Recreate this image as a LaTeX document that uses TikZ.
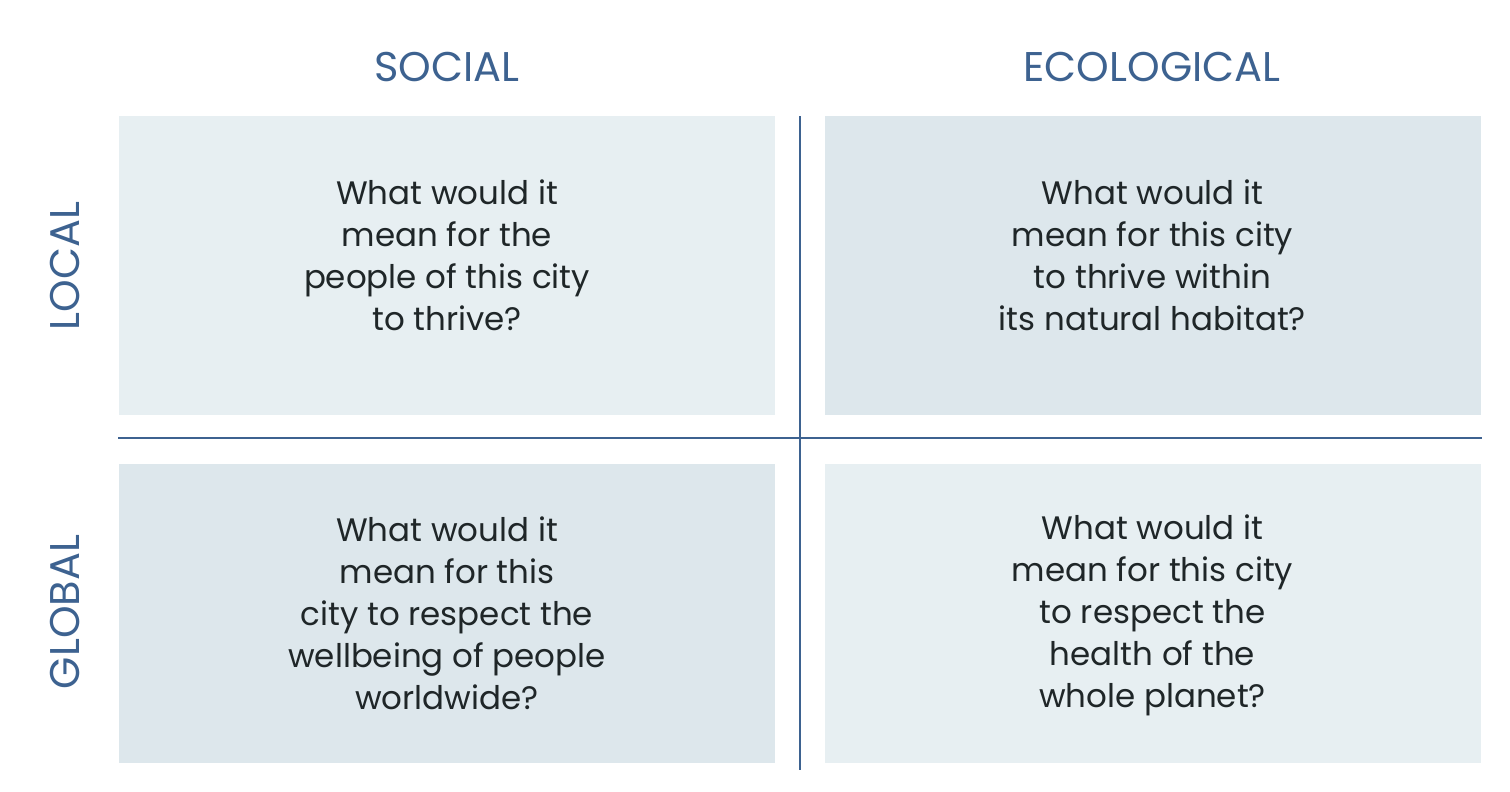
\documentclass[tikz,border=0pt]{standalone}
\usepackage{fontspec}
\setmainfont{Poppins}
\definecolor{headblue}{HTML}{3D6290}
\definecolor{lightbox}{HTML}{E7EFF2}
\definecolor{darkbox}{HTML}{DDE7EC}
\definecolor{qtext}{HTML}{1F2628}
\tikzset{
  quad/.style={minimum width=656pt, minimum height=299pt, inner sep=0pt},
  qtxt/.style={align=center, inner sep=0pt, text=qtext, font=\fontsize{32.5}{42}\selectfont},
  head/.style={text=headblue, font=\fontsize{41.5}{48}\selectfont},
  divider/.style={draw=headblue, line width=1.6pt}
}
\begin{document}
\begin{tikzpicture}[x=1pt, y=-1pt]
\useasboundingbox (0,0) rectangle (1510,792);
\node[head] (social) at (447, 67) {SOCIAL};
\node[head] (eco) at (1152, 67) {ECOLOGICAL};
\node[head, rotate=90] (local) at (65, 266) {LOCAL};
\node[head, rotate=90] (global) at (65, 612) {GLOBAL};
% quadrants
\node[quad, fill=lightbox] (Q1) at (447, 265.5) {};
\node[quad, fill=darkbox] (Q2) at (1152.5, 265.5) {};
\node[quad, fill=darkbox] (Q3) at (447, 613) {};
\node[quad, fill=lightbox] (Q4) at (1152.5, 613) {};
\node[qtxt] (T1) at (447, 255) {What would it\\mean for the\\people of this city\\to thrive?};
\node[qtxt] (T2) at (1152.5, 255) {What would it\\mean for this city\\to thrive within\\its natural habitat?};
\node[qtxt] (T3) at (447, 613) {What would it\\mean for this\\city to respect the\\wellbeing of people\\worldwide?};
\node[qtxt] (T4) at (1152.5, 615.5) {What would it\\mean for this city\\to respect the\\health of the\\whole planet?};
% dividers
\coordinate (vtop) at (800, 116);
\coordinate (vbot) at (800, 770);
\coordinate (hleft) at (118, 438);
\coordinate (hright) at (1482, 438);
\draw[divider] (vtop) -- (vbot);
\draw[divider] (hleft) -- (hright);
\end{tikzpicture}
\end{document}
